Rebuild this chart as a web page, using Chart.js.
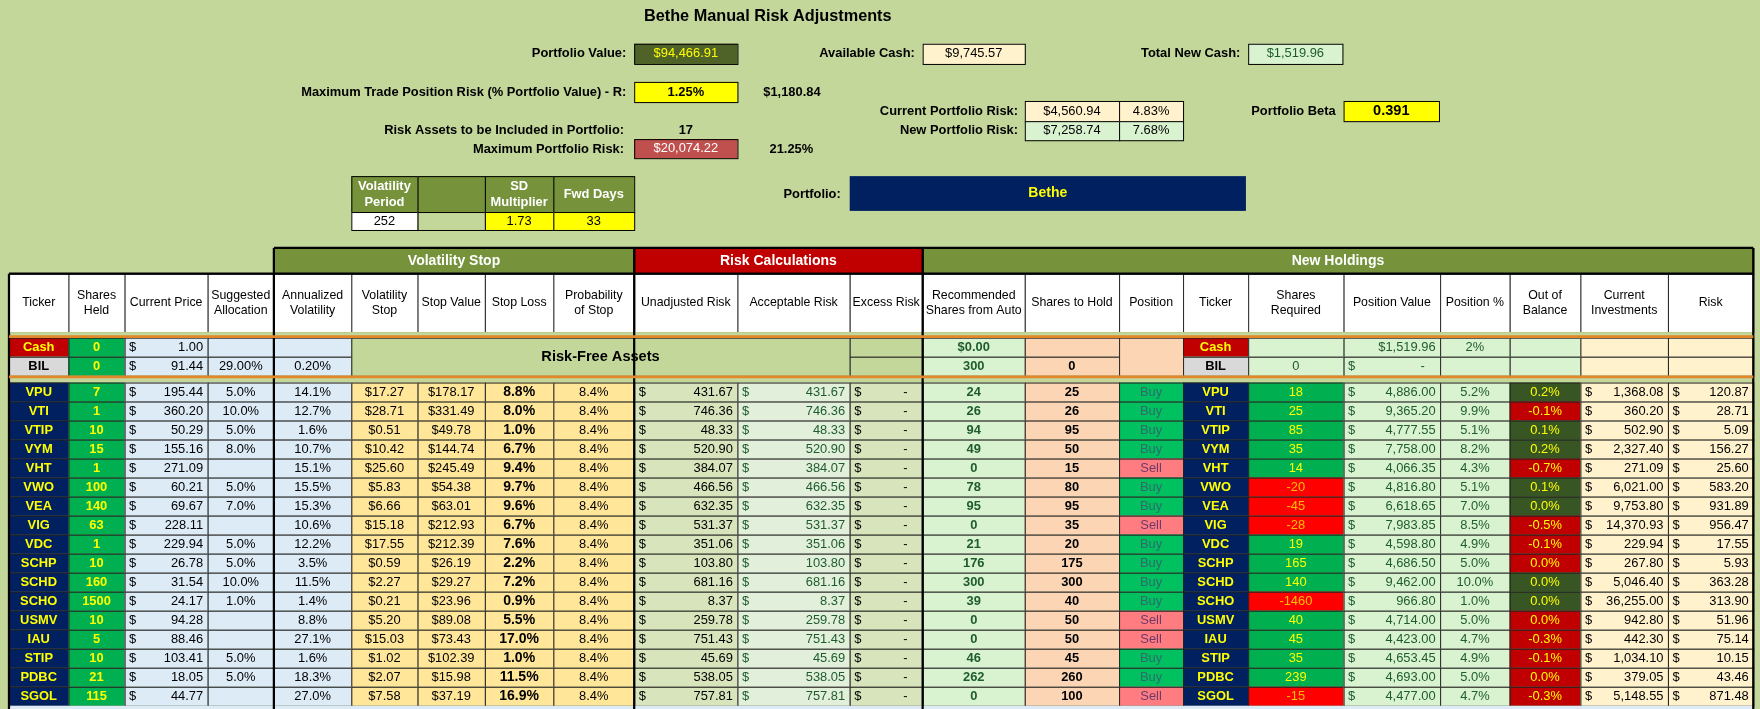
<!DOCTYPE html>
<html>
<head>
<meta charset="utf-8">
<script src="https://cdn.jsdelivr.net/npm/chart.js@4"></script>
<style>
  html, body { margin: 0; padding: 0; background: #c4d79b; }
  #wrap { width: 1760px; height: 709px; }
</style>
</head>
<body>
<div id="wrap"><canvas id="sheet"></canvas></div>
<script>
// sheet values, one entry per ticker row
const tickers = ["VPU","VTI","VTIP","VYM","VHT","VWO","VEA","VIG","VDC","SCHP","SCHD","SCHO","USMV","IAU","STIP","PDBC","SGOL"];
const sharesHeld = [7,1,10,15,1,100,140,63,1,10,160,1500,10,5,10,21,115];
const prices = ["195.44","360.20","50.29","155.16","271.09","60.21","69.67","228.11","229.94","26.78","31.54","24.17","94.28","88.46","103.41","18.05","44.77"];
const allocation = ["5.0%","10.0%","5.0%","8.0%","","5.0%","7.0%","","5.0%","5.0%","10.0%","1.0%","","","5.0%","5.0%",""];
const annVol = ["14.1%","12.7%","1.6%","10.7%","15.1%","15.5%","15.3%","10.6%","12.2%","3.5%","11.5%","1.4%","8.8%","27.1%","1.6%","18.3%","27.0%"];
const volStop = ["$17.27","$28.71","$0.51","$10.42","$25.60","$5.83","$6.66","$15.18","$17.55","$0.59","$2.27","$0.21","$5.20","$15.03","$1.02","$2.07","$7.58"];
const stopValue = ["$178.17","$331.49","$49.78","$144.74","$245.49","$54.38","$63.01","$212.93","$212.39","$26.19","$29.27","$23.96","$89.08","$73.43","$102.39","$15.98","$37.19"];
const stopLoss = ["8.8%","8.0%","1.0%","6.7%","9.4%","9.7%","9.6%","6.7%","7.6%","2.2%","7.2%","0.9%","5.5%","17.0%","1.0%","11.5%","16.9%"];
const probStop = ["8.4%","8.4%","8.4%","8.4%","8.4%","8.4%","8.4%","8.4%","8.4%","8.4%","8.4%","8.4%","8.4%","8.4%","8.4%","8.4%","8.4%"];
const unadjRisk = ["431.67","746.36","48.33","520.90","384.07","466.56","632.35","531.37","351.06","103.80","681.16","8.37","259.78","751.43","45.69","538.05","757.81"];
const acceptRisk = ["431.67","746.36","48.33","520.90","384.07","466.56","632.35","531.37","351.06","103.80","681.16","8.37","259.78","751.43","45.69","538.05","757.81"];
const recShares = [24,26,94,49,0,78,95,0,21,176,300,39,0,0,46,262,0];
const sharesToHold = [25,26,95,50,15,80,95,35,20,175,300,40,50,50,45,260,100];
const positions = ["Buy","Buy","Buy","Buy","Sell","Buy","Buy","Sell","Buy","Buy","Buy","Buy","Sell","Sell","Buy","Buy","Sell"];
const sharesRequired = [18,25,85,35,14,-20,-45,-28,19,165,140,-1460,40,45,35,239,-15];
const positionValue = ["4,886.00","9,365.20","4,777.55","7,758.00","4,066.35","4,816.80","6,618.65","7,983.85","4,598.80","4,686.50","9,462.00","966.80","4,714.00","4,423.00","4,653.45","4,693.00","4,477.00"];
const positionPct = ["5.2%","9.9%","5.1%","8.2%","4.3%","5.1%","7.0%","8.5%","4.9%","5.0%","10.0%","1.0%","5.0%","4.7%","4.9%","5.0%","4.7%"];
const outOfBalance = ["0.2%","-0.1%","0.1%","0.2%","-0.7%","0.1%","0.0%","-0.5%","-0.1%","0.0%","0.0%","0.0%","0.0%","-0.3%","-0.1%","0.0%","-0.3%"];
const outOfBalanceLow = [false,true,false,false,true,false,false,true,true,true,false,false,true,true,true,true,true];
const currentInv = ["1,368.08","360.20","502.90","2,327.40","271.09","6,021.00","9,753.80","14,370.93","229.94","267.80","5,046.40","36,255.00","942.80","442.30","1,034.10","379.05","5,148.55"];
const riskValues = ["120.87","28.71","5.09","156.27","25.60","583.20","931.89","956.47","17.55","5.93","363.28","313.90","51.96","75.14","10.15","43.46","871.48"];

// column edges of the main table, in sheet units
const cols = [8,61,111,185,244,313,372,432,493,565,657,757,822,913,997,1054,1112,1197,1283,1345,1408,1486,1562];
const headers = ["Ticker","Shares\nHeld","Current Price","Suggested\nAllocation","Annualized\nVolatility","Volatility\nStop","Stop Value","Stop Loss","Probability\nof Stop","Unadjusted Risk","Acceptable Risk","Excess Risk","Recommended\nShares from Auto","Shares to Hold","Position","Ticker","Shares\nRequired","Position Value","Position %","Out of\nBalance","Current\nInvestments","Risk"];

const W = 1568, H = 632;
const FONT = '"Liberation Sans", Arial, sans-serif';

const sheetPlugin = {
  id: "sheet",
  beforeDraw(chart) {
    const ctx = chart.ctx;
    const xs = chart.scales.x, ys = chart.scales.y;
    const k = chart.width / W;
    const px = (v) => xs.getPixelForValue(v);
    const py = (v) => ys.getPixelForValue(v);

    function text(s, x, y, o) {
      o = o || {};
      ctx.save();
      ctx.font = (o.bold ? "bold " : "") + (o.size || 11.5) * k + "px " + FONT;
      ctx.fillStyle = o.color || "#000";
      ctx.textAlign = o.align || "left";
      ctx.textBaseline = "middle";
      ctx.fillText(s, px(x), py(y));
      ctx.restore();
    }

    function cell(x0, x1, y0, y1, o) {
      o = o || {};
      ctx.save();
      if (o.bg) {
        ctx.fillStyle = o.bg;
        ctx.fillRect(px(x0), py(y0), px(x1) - px(x0), py(y1) - py(y0));
      }
      if (o.grid !== false) {
        ctx.strokeStyle = o.gridColor || "#222";
        ctx.lineWidth = 1;
        ctx.strokeRect(px(x0) + 0.5, py(y0) + 0.5, px(x1) - px(x0), py(y1) - py(y0));
      }
      ctx.restore();
      if (o.text === undefined || o.text === "") return;
      const lines = String(o.text).split("\n");
      const lh = (o.size || 11.5) * 1.25;
      const mid = (y0 + y1) / 2;
      lines.forEach((ln, i) => {
        const y = mid + (i - (lines.length - 1) / 2) * lh;
        let x = (x0 + x1) / 2, al = "center";
        if (o.align === "right") { x = x1 - 4; al = "right"; }
        if (o.align === "left") { x = x0 + 4; al = "left"; }
        text(ln, x, y, { bold: o.bold, color: o.color, size: o.size, align: al });
      });
      if (o.dollar) text("$", x0 + 4, mid, { color: o.color, size: o.size, bold: o.bold });
    }

    function line(x0, y0, x1, y1, color, w) {
      ctx.save();
      ctx.strokeStyle = color;
      ctx.lineWidth = w * k;
      ctx.beginPath();
      ctx.moveTo(px(x0), py(y0));
      ctx.lineTo(px(x1), py(y1));
      ctx.stroke();
      ctx.restore();
    }

    // page background
    ctx.fillStyle = "#c4d79b";
    ctx.fillRect(0, 0, chart.width, chart.height);

    // top summary
    text("Bethe Manual Risk Adjustments", 684, 15, { bold: true, size: 14.5, align: "center" });
    text("Portfolio Value:", 558, 48, { bold: true, align: "right" });
    cell(565, 657, 39, 57, { bg: "#4f6228", text: "$94,466.91", color: "#ffff00", gridColor: "#000" });
    text("Available Cash:", 815, 48, { bold: true, align: "right" });
    cell(822, 913, 39, 57, { bg: "#fff2cc", text: "$9,745.57", gridColor: "#000" });
    text("Total New Cash:", 1105, 48, { bold: true, align: "right" });
    cell(1112, 1196, 39, 57, { bg: "#d9f2d0", text: "$1,519.96", color: "#1e5c2e", gridColor: "#000" });

    text("Maximum Trade Position Risk (% Portfolio Value) - R:", 558, 82, { bold: true, align: "right" });
    cell(565, 657, 73, 91, { bg: "#ffff00", text: "1.25%", bold: true, gridColor: "#000" });
    text("$1,180.84", 680, 82, { bold: true });

    text("Current Portfolio Risk:", 907, 99, { bold: true, align: "right" });
    cell(913, 997, 90, 108, { bg: "#fff2cc", text: "$4,560.94", gridColor: "#000" });
    cell(997, 1054, 90, 108, { bg: "#fff2cc", text: "4.83%", gridColor: "#000" });
    text("New Portfolio Risk:", 907, 116, { bold: true, align: "right" });
    cell(913, 997, 108, 125, { bg: "#d9f2d0", text: "$7,258.74", gridColor: "#000" });
    cell(997, 1054, 108, 125, { bg: "#d9f2d0", text: "7.68%", gridColor: "#000" });
    text("Portfolio Beta", 1190, 99, { bold: true, align: "right" });
    cell(1197, 1282, 90, 108, { bg: "#ffff00", text: "0.391", bold: true, size: 13, gridColor: "#000" });

    text("Risk Assets to be Included in Portfolio:", 556, 116, { bold: true, align: "right" });
    text("17", 611, 116, { bold: true, align: "center" });
    text("Maximum Portfolio Risk:", 556, 133, { bold: true, align: "right" });
    cell(565, 657, 124, 141, { bg: "#c0504d", text: "$20,074.22", color: "#fff", gridColor: "#000" });
    text("21.25%", 705, 133, { bold: true, align: "center" });

    cell(313, 372, 157, 189, { bg: "#76933c", text: "Volatility\nPeriod", color: "#fff", bold: true, gridColor: "#000" });
    cell(372, 432, 157, 189, { bg: "#76933c", gridColor: "#000" });
    cell(432, 493, 157, 189, { bg: "#76933c", text: "SD\nMultiplier", color: "#fff", bold: true, gridColor: "#000" });
    cell(493, 565, 157, 189, { bg: "#76933c", text: "Fwd Days", color: "#fff", bold: true, gridColor: "#000" });
    cell(313, 372, 189, 205, { bg: "#fff", text: "252", gridColor: "#000" });
    cell(372, 432, 189, 205, { bg: "#c4d79b", gridColor: "#000" });
    cell(432, 493, 189, 205, { bg: "#ffff00", text: "1.73", gridColor: "#000" });
    cell(493, 565, 189, 205, { bg: "#ffff00", text: "33", gridColor: "#000" });

    text("Portfolio:", 749, 173, { bold: true, align: "right" });
    cell(757, 1110, 157, 188, { bg: "#002060", text: "Bethe", color: "#ffff00", bold: true, size: 12.5, grid: false });

    // group headers
    cell(244, 565, 221, 244, { bg: "#76933c", text: "Volatility Stop", color: "#fff", bold: true, size: 12.5, gridColor: "#000" });
    cell(565, 822, 221, 244, { bg: "#c00000", text: "Risk Calculations", color: "#fff", bold: true, size: 12.5, gridColor: "#000" });
    cell(822, 1562, 221, 244, { bg: "#76933c", text: "New Holdings", color: "#fff", bold: true, size: 12.5, gridColor: "#000" });

    // column headers
    headers.forEach((h, i) => cell(cols[i], cols[i + 1], 244, 296, { bg: "#fff", text: h, size: 11 }));
    cell(8, 1562, 296, 301, { bg: "#c4d79b", grid: false });

    // cash / BIL rows
    const c = cols;
    const rC = [301, 318], rB = [318, 335];
    cell(c[0], c[1], rC[0], rC[1], { bg: "#c00000", text: "Cash", color: "#ffff00", bold: true });
    cell(c[0], c[1], rB[0], rB[1], { bg: "#d9d9d9", text: "BIL", bold: true });
    cell(c[1], c[2], rC[0], rC[1], { bg: "#00b050", text: "0", color: "#ffff00", bold: true });
    cell(c[1], c[2], rB[0], rB[1], { bg: "#00b050", text: "0", color: "#ffff00", bold: true });
    cell(c[2], c[3], rC[0], rC[1], { bg: "#ddebf7", text: "1.00", align: "right", dollar: true });
    cell(c[2], c[3], rB[0], rB[1], { bg: "#ddebf7", text: "91.44", align: "right", dollar: true });
    cell(c[3], c[4], rC[0], rC[1], { bg: "#ddebf7" });
    cell(c[3], c[4], rB[0], rB[1], { bg: "#ddebf7", text: "29.00%" });
    cell(c[4], c[5], rC[0], rC[1], { bg: "#ddebf7" });
    cell(c[4], c[5], rB[0], rB[1], { bg: "#ddebf7", text: "0.20%" });
    cell(c[5], c[11], rC[0], rB[1], { bg: "#c4d79b", text: "Risk-Free Assets", bold: true, size: 13 });
    cell(c[11], c[12], rC[0], rC[1], { bg: "#c4d79b" });
    cell(c[11], c[12], rB[0], rB[1], { bg: "#c4d79b" });
    cell(c[12], c[13], rC[0], rC[1], { bg: "#d9f2d0", text: "$0.00", color: "#1e5c2e", bold: true });
    cell(c[12], c[13], rB[0], rB[1], { bg: "#d9f2d0", text: "300", color: "#1e5c2e", bold: true });
    cell(c[13], c[14], rC[0], rC[1], { bg: "#fcd5b4" });
    cell(c[13], c[14], rB[0], rB[1], { bg: "#fcd5b4", text: "0", bold: true });
    cell(c[14], c[15], rC[0], rB[1], { bg: "#fcd5b4" });
    cell(c[15], c[16], rC[0], rC[1], { bg: "#c00000", text: "Cash", color: "#ffff00", bold: true });
    cell(c[15], c[16], rB[0], rB[1], { bg: "#d9d9d9", text: "BIL", bold: true });
    cell(c[16], c[17], rC[0], rC[1], { bg: "#d9f2d0" });
    cell(c[16], c[17], rB[0], rB[1], { bg: "#d9f2d0", text: "0", color: "#1e5c2e" });
    cell(c[17], c[18], rC[0], rC[1], { bg: "#d9f2d0", text: "$1,519.96", align: "right", color: "#1e5c2e" });
    cell(c[17], c[18], rB[0], rB[1], { bg: "#d9f2d0", text: "-   ", align: "right", dollar: true, color: "#1e5c2e" });
    cell(c[18], c[19], rC[0], rC[1], { bg: "#d9f2d0", text: "2%", color: "#1e5c2e" });
    cell(c[18], c[19], rB[0], rB[1], { bg: "#d9f2d0" });
    cell(c[19], c[20], rC[0], rC[1], { bg: "#d9f2d0" });
    cell(c[19], c[20], rB[0], rB[1], { bg: "#d9f2d0" });
    [20, 21].forEach((j) => {
      cell(c[j], c[j + 1], rC[0], rC[1], { bg: "#fff2cc" });
      cell(c[j], c[j + 1], rB[0], rB[1], { bg: "#fff2cc" });
    });
    cell(8, 1562, 335, 341, { bg: "#c4d79b", grid: false });

    // data rows
    const top = 341, rh = 16.95;
    tickers.forEach((t, i) => {
      const y0 = top + i * rh, y1 = y0 + rh;
      const sell = positions[i] === "Sell";
      cell(c[0], c[1], y0, y1, { bg: "#002060", text: t, color: "#ffff00", bold: true });
      cell(c[1], c[2], y0, y1, { bg: "#00b050", text: String(sharesHeld[i]), color: "#ffff00", bold: true });
      cell(c[2], c[3], y0, y1, { bg: "#ddebf7", text: prices[i], align: "right", dollar: true });
      cell(c[3], c[4], y0, y1, { bg: "#ddebf7", text: allocation[i] });
      cell(c[4], c[5], y0, y1, { bg: "#ddebf7", text: annVol[i] });
      cell(c[5], c[6], y0, y1, { bg: "#ffe699", text: volStop[i] });
      cell(c[6], c[7], y0, y1, { bg: "#ffe699", text: stopValue[i] });
      cell(c[7], c[8], y0, y1, { bg: "#ffe699", text: stopLoss[i], bold: true, size: 12.5 });
      cell(c[8], c[9], y0, y1, { bg: "#ffe699", text: probStop[i] });
      cell(c[9], c[10], y0, y1, { bg: "#d8e4bc", text: unadjRisk[i], align: "right", dollar: true });
      cell(c[10], c[11], y0, y1, { bg: "#e2efda", text: acceptRisk[i], align: "right", dollar: true, color: "#1e5c2e" });
      cell(c[11], c[12], y0, y1, { bg: "#d8e4bc", text: "-   ", align: "right", dollar: true });
      cell(c[12], c[13], y0, y1, { bg: "#d9f2d0", text: String(recShares[i]), color: "#1e5c2e", bold: true });
      cell(c[13], c[14], y0, y1, { bg: "#fcd5b4", text: String(sharesToHold[i]), bold: true });
      cell(c[14], c[15], y0, y1, { bg: sell ? "#ff7c80" : "#00c060", text: positions[i], color: sell ? "#6b3a6b" : "#2f6b6b" });
      cell(c[15], c[16], y0, y1, { bg: "#002060", text: t, color: "#ffff00", bold: true });
      const neg = sharesRequired[i] < 0;
      cell(c[16], c[17], y0, y1, { bg: neg ? "#ff0000" : "#00b050", text: String(sharesRequired[i]), color: neg ? "#ffc000" : "#ffff00" });
      cell(c[17], c[18], y0, y1, { bg: "#d9f2d0", text: positionValue[i], align: "right", dollar: true, color: "#1e5c2e" });
      cell(c[18], c[19], y0, y1, { bg: "#d9f2d0", text: positionPct[i], color: "#1e5c2e" });
      const low = outOfBalanceLow[i];
      cell(c[19], c[20], y0, y1, { bg: low ? "#c00000" : "#375623", text: outOfBalance[i], color: "#ffff00" });
      cell(c[20], c[21], y0, y1, { bg: "#fff2cc", text: currentInv[i], align: "right", dollar: true });
      cell(c[21], c[22], y0, y1, { bg: "#fff2cc", text: riskValues[i], align: "right", dollar: true });
    });
    const bottom = top + tickers.length * rh;
    cell(8, 1562, bottom, H, { bg: "#ddebf7", grid: false });

    // heavy borders and orange separators
    line(244, 221, 1562, 221, "#000", 2);
    line(8, 244, 1562, 244, "#000", 2);
    [8, 244, 565, 822, 1562].forEach((x) => line(x, x === 8 ? 244 : 221, x, H, "#000", 2));
    line(8, 300, 1562, 300, "#e0882a", 2.5);
    line(8, 336, 1562, 336, "#e0882a", 2.5);
  }
};

new Chart(document.getElementById("sheet"), {
  type: "scatter",
  data: { datasets: [] },
  options: {
    responsive: true,
    maintainAspectRatio: false,
    animation: false,
    layout: { padding: 0 },
    plugins: { legend: { display: false }, tooltip: { enabled: false } },
    scales: {
      x: { type: "linear", min: 0, max: W, display: false },
      y: { type: "linear", min: 0, max: H, reverse: true, display: false },
    },
  },
  plugins: [sheetPlugin],
});
</script>
</body>
</html>
